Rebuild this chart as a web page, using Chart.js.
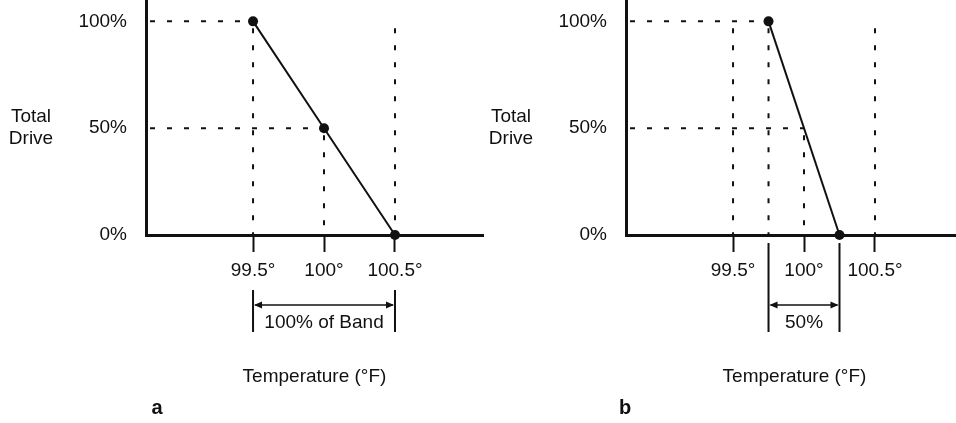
<!DOCTYPE html>
<html>
<head>
<meta charset="utf-8">
<script src="https://cdn.jsdelivr.net/npm/chart.js@4.4.1/dist/chart.umd.min.js"></script>
<style>
  body { margin: 0; background: #fff; width: 956px; height: 423px; overflow: hidden; position: relative; }
  .panel { position: absolute; top: 0; width: 486px; height: 423px; }
</style>
</head>
<body>
<div class="panel" style="left:0"><canvas id="chartA" width="486" height="423"></canvas></div>
<div class="panel" style="left:480px"><canvas id="chartB" width="486" height="423"></canvas></div>
<script>
// ─── Data ──────────────────────────────────────────────────
const tempTicks = [99.5, 100, 100.5];
const driveTicks = [0, 50, 100];

// panel a: full proportional band
const aTemps = [99.5, 100, 100.5];
const aDrive = [100, 50, 0];
const aGuidesH = [[100, 99.5], [50, 100]];            // [drive level, temp where it stops]
const aGuidesV = [[99.5, 100], [100, 50], [100.5, 100]]; // [temp, drive level where it starts]
const aBand = [99.5, 100.5];

// panel b: 50% band
const bTemps = [99.75, 100.25];
const bDrive = [100, 0];
const bGuidesH = [[100, 99.75], [50, 100]];
const bGuidesV = [[99.5, 100], [99.75, 100], [100, 50], [100.5, 100]];
const bBand = [99.75, 100.25];

const X_MIN = 98.746, X_MAX = 101.12;
const Y_MIN = 0, Y_MAX = 110;

const FONT = "'Liberation Sans', Arial, sans-serif";
const INK = '#111';

const dashStyle = {
  borderColor: INK, borderWidth: 2, borderDash: [5, 12], borderDashOffset: 13,
  pointRadius: 0, fill: false, tension: 0
};

// no automatic padding, the plot area is pinned by hand
function noPad(s) {
  s.paddingTop = 0; s.paddingBottom = 0; s.paddingLeft = 0; s.paddingRight = 0;
}

// ─── Extra text + dimension bracket ────────────────────────
const extras = {
  id: 'extras',
  afterDraw(chart, args, o) {
    const { ctx, chartArea, scales: { x, y } } = chart;
    ctx.save();
    ctx.fillStyle = INK;
    ctx.strokeStyle = INK;
    ctx.font = `19px ${FONT}`;
    ctx.textAlign = 'center';
    ctx.textBaseline = 'middle';

    // y title, two lines centred on the 50% level
    const ym = y.getPixelForValue(50);
    ctx.fillText('Total', 31, ym - 11);
    ctx.fillText('Drive', 31, ym + 11);

    // bracket under the axis
    const x1 = x.getPixelForValue(o.band[0]);
    const x2 = x.getPixelForValue(o.band[1]);
    const b = chartArea.bottom;
    ctx.lineWidth = 2;
    ctx.beginPath();
    [x1, x2].forEach(px => { ctx.moveTo(px, b + o.bracketTop); ctx.lineTo(px, b + 97); });
    ctx.stroke();

    const ay = b + 70;
    ctx.lineWidth = 1.5;
    ctx.beginPath();
    ctx.moveTo(x1 + 2, ay); ctx.lineTo(x2 - 2, ay);
    ctx.stroke();
    ctx.beginPath();
    ctx.moveTo(x1 + 1, ay); ctx.lineTo(x1 + 9, ay - 3.5); ctx.lineTo(x1 + 9, ay + 3.5); ctx.closePath();
    ctx.moveTo(x2 - 1, ay); ctx.lineTo(x2 - 9, ay - 3.5); ctx.lineTo(x2 - 9, ay + 3.5); ctx.closePath();
    ctx.fill();

    ctx.fillText(o.bandLabel, (x1 + x2) / 2, b + 88);

    // panel letter
    ctx.font = `bold 20px ${FONT}`;
    ctx.fillText(o.letter, o.letterX, 408);
    ctx.restore();
  }
};

function makeChart(id, temps, drive, guidesH, guidesV, band, bandLabel, bracketTop, letter, letterX) {
  const curve = temps.map((t, i) => ({ x: t, y: drive[i] }));
  const hLines = guidesH.map(([lvl, xe]) => ({ ...dashStyle, data: [{ x: X_MIN, y: lvl }, { x: xe, y: lvl }] }));
  const vLines = guidesV.map(([xv, top]) => ({ ...dashStyle, borderDashOffset: 10, data: [{ x: xv, y: top }, { x: xv, y: 0 }] }));

  return new Chart(document.getElementById(id), {
    type: 'line',
    data: {
      datasets: [
        { data: curve, borderColor: INK, borderWidth: 2, pointRadius: 5, pointBackgroundColor: INK,
          pointBorderWidth: 0, tension: 0, clip: false },
        ...hLines,
        ...vLines
      ]
    },
    options: {
      responsive: false,
      animation: false,
      layout: { autoPadding: false, padding: { left: 0, right: 3, top: 0, bottom: 0 } },
      plugins: {
        legend: { display: false },
        tooltip: { enabled: false },
        extras: { band, bandLabel, bracketTop, letter, letterX }
      },
      scales: {
        x: {
          type: 'linear', min: X_MIN, max: X_MAX,
          afterBuildTicks: s => { s.ticks = tempTicks.map(v => ({ value: v })); },
          afterFit: s => { s.height = 188; noPad(s); },
          ticks: { color: INK, font: { family: FONT, size: 19 }, padding: 7, callback: v => v + '°' },
          grid: { display: true, drawOnChartArea: false, drawTicks: true, tickLength: 17, tickWidth: 2, tickColor: INK },
          border: { display: true, color: INK, width: 3 },
          title: { display: true, text: 'Temperature (°F)', color: INK, font: { family: FONT, size: 19 },
                   padding: { top: 0, bottom: 35 } }
        },
        y: {
          type: 'linear', min: Y_MIN, max: Y_MAX,
          afterBuildTicks: s => { s.ticks = driveTicks.map(v => ({ value: v })); },
          afterFit: s => { s.width = 146; noPad(s); },
          ticks: { color: INK, font: { family: FONT, size: 19 }, padding: 19, callback: v => v + '%' },
          grid: { display: false, drawTicks: false },
          border: { display: true, color: INK, width: 3 }
        }
      }
    },
    plugins: [extras]
  });
}

makeChart('chartA', aTemps, aDrive, aGuidesH, aGuidesV, aBand, '100% of Band', 55, 'a', 157);
makeChart('chartB', bTemps, bDrive, bGuidesH, bGuidesV, bBand, '50%', 8, 'b', 145);
</script>
</body>
</html>
